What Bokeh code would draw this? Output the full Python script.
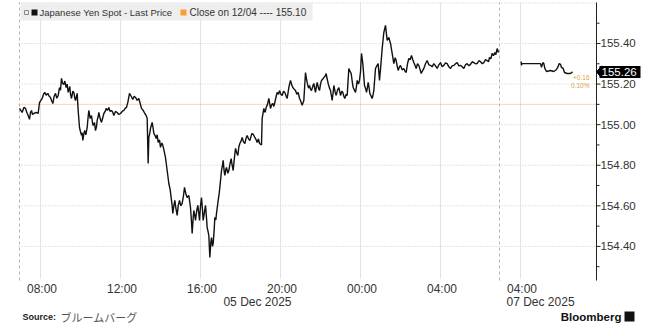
from bokeh.plotting import figure
from bokeh.models import Range1d
from bokeh.core.properties import value
from bokeh.embed import file_html
from bokeh.resources import INLINE

# ---- data: minutes from 08:00 on a trading-time axis (weekend compressed) ----
fri_minutes = [
    -63, -59, -55, -50, -45, -41, -37, -33, -30, -27,
    -24, -20, -13, -7, -3, 1, 5, 9, 13, 17,
    22, 26, 30, 34, 37, 41, 45, 49, 53, 57,
    60, 63, 66, 70, 73, 77, 80, 83, 88, 90,
    93, 97, 100, 103, 105, 108, 110, 113, 117, 120,
    123, 125, 127, 130, 133, 136, 140, 143, 145, 149,
    153, 156, 158, 162, 165, 168, 170, 173, 175, 179,
    183, 187, 190, 194, 197, 201, 205, 209, 213, 217,
    220, 225, 230, 235, 240, 245, 250, 254, 258, 262,
    267, 272, 277, 281, 285, 290, 295,
    303, 308, 313, 317, 320, 323, 325, 328, 330, 333,
    335, 338, 340, 344, 347, 350, 353, 357, 360, 364,
    367, 371, 375, 380, 385, 389, 393, 395, 397, 400,
    403, 406, 410, 413, 417, 421, 425, 429, 432, 436,
    440, 445, 450, 453, 455, 458, 460, 463, 465, 469,
    472, 475, 477, 480, 483, 486, 488, 492, 495, 498,
    500, 503, 505, 508, 511, 513, 516, 518, 521, 523,
    526, 528, 531, 533, 536, 538, 541, 543, 546, 548,
    551, 553, 556, 558, 562, 565, 569, 572, 575, 578,
    582, 585, 589, 592, 595, 598, 602, 605, 609, 613,
    617, 620, 624, 628, 632, 635, 639, 643, 647, 650,
    654, 657, 663,
    665, 670, 674, 677, 681, 685, 690, 694, 697, 700,
    703, 707, 710, 714, 717, 721, 725, 729, 733, 737,
    740, 745, 750, 754, 757, 761, 765, 769, 773, 777,
    780, 785, 790, 795, 798, 800, 804, 807, 810, 813,
    817, 820, 823, 825, 828, 830, 834, 837, 840, 843,
    847, 850, 854, 857, 860, 863, 867, 870, 873, 875,
    878, 880, 884, 887, 891, 895, 898, 900, 904, 907,
    910, 913, 917, 920, 925, 928, 932, 935, 938, 942,
    945, 948, 950, 954, 957, 960, 963, 967, 972, 975,
    978, 981, 983, 986, 988, 992, 995, 998, 1000, 1005,
    1009, 1013, 1017, 1021,
    1025, 1030, 1035, 1040, 1045, 1050, 1055, 1060, 1064, 1067,
    1070, 1073, 1077, 1080, 1085, 1090, 1094, 1097, 1101, 1105,
    1109, 1113, 1117, 1120, 1124, 1127, 1131, 1135, 1139, 1142,
    1146, 1150, 1155, 1160, 1165, 1170, 1175, 1180, 1185, 1190,
    1195, 1200, 1205, 1210, 1215, 1220, 1225, 1230, 1235, 1240,
    1245, 1250, 1255, 1260, 1265, 1270, 1275, 1280, 1285, 1290,
    1295, 1300, 1305, 1310, 1315, 1320, 1325, 1330, 1335, 1340,
    1344, 1347, 1351, 1355, 1359, 1363, 1366, 1370, 1374,
]
fri_price = [
    155.080, 155.070, 155.060, 155.085, 155.080, 155.060, 155.045, 155.026, 155.060, 155.070,
    155.050, 155.055, 155.060, 155.055, 155.109, 155.120, 155.129, 155.150, 155.159, 155.145,
    155.154, 155.140, 155.134, 155.115, 155.104, 155.140, 155.154, 155.130, 155.144, 155.183,
    155.170, 155.228, 155.205, 155.198, 155.215, 155.183, 155.200, 155.159, 155.188, 155.150,
    155.129, 155.165, 155.159, 155.130, 155.119, 155.140, 155.154, 155.070, 154.986, 154.965,
    154.947, 154.960, 154.922, 154.955, 154.971, 154.950, 154.986, 155.040, 155.070, 155.030,
    155.045, 155.010, 154.996, 155.010, 154.971, 154.990, 155.021, 155.040, 155.060, 155.030,
    155.011, 155.035, 155.055, 155.065, 155.080, 155.070, 155.085, 155.065, 155.070, 155.060,
    155.045, 155.065, 155.060, 155.050, 155.055, 155.065, 155.070, 155.080, 155.085, 155.110,
    155.154, 155.140, 155.124, 155.140, 155.134, 155.120, 155.129,
    155.080, 155.070, 155.055, 155.045, 155.031, 154.809, 154.937, 154.960, 154.981, 155.000,
    155.011, 154.980, 154.957, 154.945, 154.932, 154.950, 154.912, 154.925, 154.888, 154.910,
    154.898, 154.870, 154.838, 154.774, 154.710, 154.680, 154.627, 154.600, 154.563, 154.600,
    154.627, 154.590, 154.553, 154.600, 154.627, 154.600, 154.612, 154.650, 154.691, 154.660,
    154.641, 154.651, 154.592, 154.520, 154.464, 154.540, 154.577, 154.550, 154.528, 154.580,
    154.602, 154.560, 154.528, 154.600, 154.641, 154.580, 154.528, 154.570, 154.602, 154.540,
    154.494, 154.470, 154.454, 154.346, 154.420, 154.444, 154.400, 154.415, 154.480, 154.543,
    154.530, 154.563, 154.600, 154.627, 154.660, 154.691, 154.740, 154.774, 154.800, 154.824,
    154.770, 154.750, 154.780, 154.789, 154.760, 154.774, 154.810, 154.833, 154.800, 154.774,
    154.840, 154.883, 154.860, 154.848, 154.890, 154.907, 154.920, 154.937, 154.915, 154.907,
    154.935, 154.947, 154.930, 154.922, 154.945, 154.957, 154.950, 154.937, 154.925, 154.912,
    154.930, 154.907, 154.900,
    155.031, 155.080, 155.060, 155.085, 155.100, 155.129, 155.080, 155.100, 155.104, 155.090,
    155.109, 155.140, 155.159, 155.150, 155.168, 155.150, 155.144, 155.165, 155.159, 155.140,
    155.129, 155.183, 155.218, 155.195, 155.183, 155.175, 155.168, 155.150, 155.159, 155.130,
    155.119, 155.095, 155.119, 155.257, 155.225, 155.208, 155.180, 155.193, 155.175, 155.168,
    155.190, 155.203, 155.175, 155.159, 155.190, 155.208, 155.180, 155.168, 155.200, 155.218,
    155.225, 155.232, 155.240, 155.252, 155.225, 155.203, 155.180, 155.168, 155.140, 155.119,
    155.160, 155.193, 155.160, 155.144, 155.170, 155.183, 155.160, 155.144, 155.165, 155.159,
    155.140, 155.129, 155.150, 155.144, 155.277, 155.265, 155.252, 155.215, 155.183, 155.170,
    155.159, 155.190, 155.218, 155.200, 155.218, 155.260, 155.351, 155.301, 155.193, 155.180,
    155.159, 155.185, 155.208, 155.180, 155.154, 155.140, 155.129, 155.150, 155.168, 155.277,
    155.290, 155.301, 155.218, 155.292,
    155.375, 155.454, 155.489, 155.415, 155.430, 155.400, 155.351, 155.301, 155.330, 155.316,
    155.290, 155.267, 155.285, 155.292, 155.270, 155.277, 155.262, 155.257, 155.300, 155.326,
    155.320, 155.341, 155.320, 155.306, 155.290, 155.277, 155.300, 155.292, 155.270, 155.252,
    155.265, 155.277, 155.300, 155.316, 155.295, 155.292, 155.285, 155.301, 155.290, 155.277,
    155.295, 155.306, 155.285, 155.292, 155.305, 155.301, 155.285, 155.277, 155.290, 155.292,
    155.300, 155.306, 155.290, 155.292, 155.285, 155.277, 155.295, 155.301, 155.290, 155.297,
    155.310, 155.306, 155.300, 155.301, 155.315, 155.311, 155.300, 155.306, 155.320, 155.316,
    155.310, 155.331, 155.325, 155.351, 155.340, 155.356, 155.345, 155.375, 155.356,
]

sun_minutes = [1442, 1443, 1444, 1500, 1503, 1507, 1510, 1513, 1518, 1530, 1540, 1548, 1553, 1556,
               1560, 1563, 1568, 1572, 1580, 1590, 1596]
sun_price = [155.311, 155.292, 155.301, 155.301, 155.282, 155.306, 155.301, 155.277, 155.262, 155.267,
             155.262, 155.272, 155.287, 155.301, 155.297, 155.282, 155.277, 155.257, 155.252, 155.252,
             155.260]

assert len(fri_minutes) == len(fri_price)
assert len(sun_minutes) == len(sun_price)

prev_close = 155.10
last_price = 155.26
change_text = "+0.16"
change_pct_text = "0.10%"
series_name = "Japanese Yen Spot - Last Price"
close_name = f"Close on 12/04 ---- {prev_close:.2f}"

time_ticks = [0, 240, 480, 720, 960, 1200, 1440]
time_labels = ["08:00", "12:00", "16:00", "20:00", "00:00", "04:00", "04:00"]
date_ticks = [720, 1440]
date_labels = ["05 Dec 2025", "07 Dec 2025"]
session_breaks = [-63, 1377]
price_ticks = [154.4, 154.6, 154.8, 155.0, 155.2, 155.4]
price_minor = [154.3, 154.5, 154.7, 154.9, 155.1, 155.3, 155.5]
price_grid = [154.4, 154.6, 154.8, 155.0, 155.2, 155.4, 155.6]

# visible window of the chart (time in minutes, price)
x_lo, x_hi = -66, 1668
y_lo, y_hi = 154.232, 155.602

# ---- layout (pixels) ----
W, H = 656, 333
L, R, T, B = 18, 596, 2, 280
kx = (R - L) / (x_hi - x_lo)
ky = (B - T) / (y_hi - y_lo)


def dx(px):
    return px / kx


def dy(px):
    return px / ky


FONT = "Liberation Sans"
TXT = "#333333"

p = figure(width=W, height=H, output_backend="svg", toolbar_location=None,
           x_range=Range1d(x_lo - dx(L), x_hi + dx(W - R)),
           y_range=Range1d(y_lo - dy(H - B), y_hi + dy(T)),
           x_axis_location=None, y_axis_location=None, min_border=0)
p.outline_line_color = None
p.background_fill_color = "white"
p.border_fill_color = "white"
p.grid.grid_line_color = None

# grid lines
p.segment(x0=[x_lo] * len(price_grid), x1=[x_hi] * len(price_grid), y0=price_grid, y1=price_grid,
          line_color="#c8c8c8", line_dash="1 2", line_width=1)
p.segment(x0=time_ticks, x1=time_ticks, y0=[y_lo + dy(2)] * len(time_ticks),
          y1=[y_hi] * len(time_ticks), line_color="#e2e2e2", line_width=1)
p.segment(x0=session_breaks, x1=session_breaks, y0=[y_lo] * len(session_breaks),
          y1=[y_hi] * len(session_breaks), line_color="#b5b5b5", line_dash="3 3", line_width=1)

# previous close reference line
p.segment(x0=[x_lo], x1=[x_hi], y0=[prev_close], y1=[prev_close],
          line_color="#f0b24a", line_dash="1 1", line_width=1)

# price axis on the right
p.segment(x0=[x_hi], x1=[x_hi], y0=[y_lo], y1=[y_hi], line_color="#222222", line_width=1)
p.segment(x0=[x_hi] * len(price_ticks), x1=[x_hi + dx(4)] * len(price_ticks),
          y0=price_ticks, y1=price_ticks, line_color="#222222", line_width=1)
p.segment(x0=[x_hi] * len(price_minor), x1=[x_hi + dx(3)] * len(price_minor),
          y0=price_minor, y1=price_minor, line_color="#222222", line_width=1)
p.text(x=[x_hi + dx(4)] * len(price_ticks), y=price_ticks,
       text=[f"{v:.2f}" for v in price_ticks], text_align="left", text_baseline="middle",
       text_font=value(FONT), text_font_size="11.5px", text_color=TXT)

# time axis labels
p.text(x=time_ticks, y=[y_lo - dy(8.5)] * len(time_ticks), text=time_labels,
       text_align="center", text_baseline="middle", x_offset=1.5,
       text_font=value(FONT), text_font_size="12px", text_color=TXT)
p.text(x=date_ticks[:1], y=[y_lo - dy(21.5)], text=date_labels[:1], text_align="right",
       text_baseline="middle", x_offset=11, text_font=value(FONT), text_font_size="12px",
       text_color=TXT)
p.text(x=date_ticks[1:], y=[y_lo - dy(21.5)], text=date_labels[1:], text_align="left",
       text_baseline="middle", x_offset=-14, text_font=value(FONT), text_font_size="12px",
       text_color=TXT)

# price series
p.line(fri_minutes, fri_price, line_color="#111111", line_width=1.4)
p.line(sun_minutes, sun_price, line_color="#111111", line_width=1.4)

# last price tag
p.patch(x=[x_hi, x_hi + dx(5), x_hi + dx(5)],
        y=[last_price, last_price + dy(6), last_price - dy(6)], color="black")
p.quad(left=[x_hi + dx(3)], right=[x_hi + dx(44)], top=[last_price + dy(6)],
       bottom=[last_price - dy(6)], fill_color="black", line_color=None)
p.text(x=[x_hi + dx(5)], y=[last_price], text=[f"{last_price:.2f}"], text_align="left",
       text_baseline="middle", text_font=value(FONT), text_font_size="11.5px",
       text_color="white")
p.text(x=[x_hi - dx(7)] * 2, y=[last_price - dy(5.5), last_price - dy(13.5)],
       text=[change_text, change_pct_text], text_align="right", text_baseline="middle",
       text_font=value(FONT), text_font_size="6.5px", text_color="#e0a040")

# legend strip (top left)
leg_y = y_hi - dy(10)
p.quad(left=[x_lo + dx(2)], right=[x_lo + dx(294)], top=[y_hi], bottom=[y_hi - dy(18)],
       fill_color="#eeeeee", line_color=None)
p.quad(left=[x_lo + dx(6)], right=[x_lo + dx(10)], top=[leg_y + dy(2)], bottom=[leg_y - dy(2)],
       fill_color=None, line_color="#888888", line_width=1)
p.quad(left=[x_lo + dx(13)], right=[x_lo + dx(19)], top=[leg_y + dy(3)], bottom=[leg_y - dy(3)],
       fill_color="#111111", line_color=None)
p.text(x=[x_lo + dx(21)], y=[leg_y], text=[series_name], text_align="left", text_baseline="middle",
       text_font=value(FONT), text_font_size="9.5px", text_color=TXT)
p.quad(left=[x_lo + dx(162)], right=[x_lo + dx(168)], top=[leg_y + dy(3)], bottom=[leg_y - dy(3)],
       fill_color="#f5a030", line_color=None)
p.text(x=[x_lo + dx(171)], y=[leg_y], text=[close_name], text_align="left", text_baseline="middle",
       text_font=value(FONT), text_font_size="10px", text_color=TXT)

# footer
foot_y = y_lo - dy(36)
p.text(x=[x_lo + dx(4)], y=[foot_y], text=["Source:"], text_align="left", text_baseline="middle",
       text_font=value(FONT), text_font_size="9px", text_font_style="bold", text_color="#222222")
p.text(x=[x_lo + dx(42)], y=[foot_y], text=["ブルームバーグ"], text_align="left",
       text_baseline="middle", text_font=value("Noto Sans CJK JP"), text_font_size="11px",
       text_color="#555555")
p.text(x=[x_hi + dx(25)], y=[foot_y], text=["Bloomberg"], text_align="right",
       text_baseline="middle", text_font=value(FONT), text_font_size="11.5px",
       text_font_style="bold", text_color="#111111")
p.quad(left=[x_hi + dx(28)], right=[x_hi + dx(38)], top=[foot_y + dy(5)], bottom=[foot_y - dy(5)],
       fill_color="#111111", line_color=None)

open("out.html", "w").write(file_html(p, INLINE))
